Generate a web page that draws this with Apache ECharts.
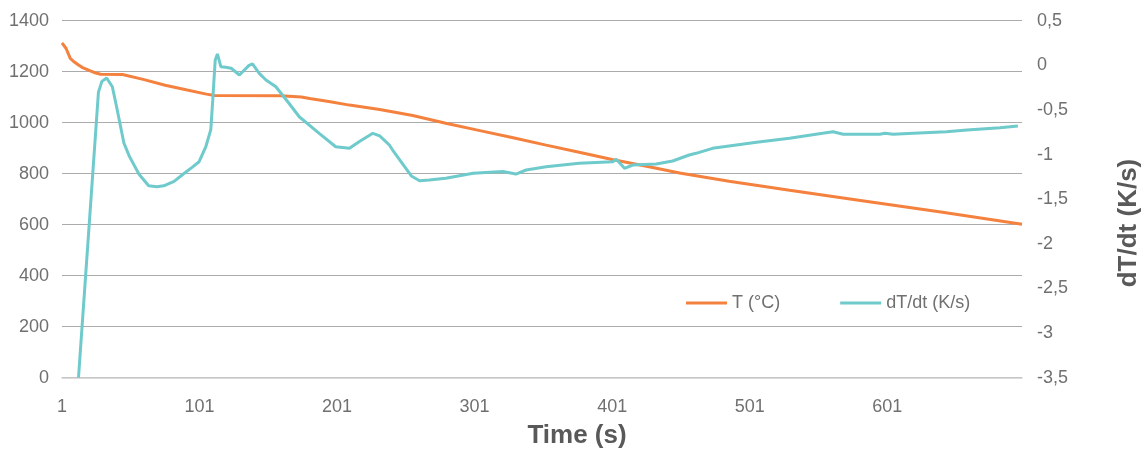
<!DOCTYPE html>
<html>
<head>
<meta charset="utf-8">
<script src="https://cdn.jsdelivr.net/npm/echarts@6/dist/echarts.min.js"></script>
<style>
  html, body { margin: 0; padding: 0; background: #ffffff; }
  #chart { width: 1148px; height: 450px; }
</style>
</head>
<body>
<div id="chart"></div>
<script>
// Temperature during cooling, T (°C), against time (s)
const tempTime = [1, 4, 7, 10, 13, 16, 19, 22, 25, 29,
                  45, 60, 76, 92, 106, 112, 160, 175, 181, 195,
                  210, 232, 256, 280, 304, 329, 353, 377, 401, 426,
                  450, 474, 486, 530, 579, 640, 699];
const tempC = [1313, 1291, 1252, 1238, 1226, 1216, 1209, 1202, 1196, 1190,
               1189, 1170, 1147, 1128, 1112, 1107, 1106, 1101, 1095, 1083,
               1069, 1052, 1028, 998, 970, 941, 912, 884, 856, 829,
               803, 781, 770, 735, 697, 650, 602];

// Cooling rate, dT/dt (K/s), against time (s)
const rateTime = [13, 27.5, 30, 33.5, 37.6, 40.5, 46, 50, 57, 64,
                  70, 75, 82.5, 89, 95.8, 100.7, 105.6, 109.2, 110.6, 112.4,
                  114, 116.5, 120, 124, 130, 137, 139.5, 144.4, 149.3, 156.5,
                  166, 173.5, 188, 200, 210, 217, 227, 232, 239, 241.4,
                  251, 255, 261, 268, 280, 300, 321.5, 331, 338.5, 353,
                  377, 401.5, 404, 410, 416, 433, 445, 457, 462, 474,
                  486, 506, 530, 554, 561.6, 569, 595.6, 599.3, 605.3, 620,
                  644, 659, 683, 696];
const rateKs = [-3.5, -0.3, -0.18, -0.142, -0.24, -0.45, -0.87, -1.02, -1.22, -1.35,
                -1.36, -1.35, -1.30, -1.22, -1.14, -1.08, -0.91, -0.72, -0.39, 0.06,
                0.127, -0.015, -0.022, -0.033, -0.108, 0.0, 0.015, -0.09, -0.164, -0.24,
                -0.425, -0.576, -0.762, -0.912, -0.93, -0.856, -0.762, -0.79, -0.893, -0.949,
                -1.154, -1.24, -1.293, -1.285, -1.266, -1.21, -1.19, -1.218, -1.173, -1.136,
                -1.098, -1.08, -1.053, -1.154, -1.117, -1.106, -1.072, -1.005, -0.986, -0.93,
                -0.904, -0.863, -0.818, -0.762, -0.744, -0.773, -0.773, -0.762, -0.773, -0.762,
                -0.744, -0.725, -0.699, -0.68];

// Axis tick labels
const timeTicks = [1, 101, 201, 301, 401, 501, 601];

const seriesNames = ['T (°C)', 'dT/dt (K/s)'];

const zip = (xs, ys) => xs.map((x, i) => [x, ys[i]]);

const FONT = '"Liberation Sans", Arial, sans-serif';
const labelStyle = { fontFamily: FONT, fontSize: 18, color: '#707070' };

const chart = echarts.init(document.getElementById('chart'), null, { renderer: 'canvas' });

chart.setOption({
  animation: false,
  backgroundColor: '#ffffff',
  grid: { left: 62, right: 126, top: 20.7, bottom: 72.3 },
  xAxis: {
    type: 'value',
    min: 1,
    max: 699,
    axisLine: { lineStyle: { color: '#d0d0d0', width: 1.5 } },
    axisTick: { show: false },
    splitLine: { show: false },
    axisLabel: Object.assign({ customValues: timeTicks, margin: 20, formatter: v => String(v) }, labelStyle)
  },
  yAxis: [
    {
      type: 'value',
      position: 'left',
      min: 0,
      max: 1400,
      interval: 200,
      axisLine: { show: false },
      axisTick: { show: false },
      splitLine: { lineStyle: { color: '#ababab', width: 1 } },
      axisLabel: Object.assign({ margin: 13, formatter: v => String(v) }, labelStyle)
    },
    {
      type: 'value',
      position: 'right',
      min: -3.5,
      max: 0.5,
      interval: 0.5,
      axisLine: { show: false },
      axisTick: { show: false },
      splitLine: { show: false },
      axisLabel: Object.assign({
        margin: 15,
        formatter: v => String(v).replace('.', ',')
      }, labelStyle)
    }
  ],
  legend: {
    data: seriesNames,
    left: 681,
    top: 289,
    icon: 'rect',
    itemWidth: 41,
    itemHeight: 3,
    itemGap: 60,
    textStyle: { fontFamily: FONT, fontSize: 18, color: '#707070' }
  },
  series: [
    {
      name: seriesNames[0],
      type: 'line',
      yAxisIndex: 0,
      data: zip(tempTime, tempC),
      symbol: 'none',
      lineStyle: { color: '#F4813E', width: 3 },
      itemStyle: { color: '#F4813E' }
    },
    {
      name: seriesNames[1],
      type: 'line',
      yAxisIndex: 1,
      data: zip(rateTime, rateKs),
      symbol: 'none',
      lineStyle: { color: '#6FCACC', width: 3 },
      itemStyle: { color: '#6FCACC' }
    }
  ],
  graphic: [
    {
      type: 'text',
      x: 577,
      y: 436,
      style: {
        text: 'Time (s)',
        font: 'bold 26px ' + FONT,
        fill: '#595959',
        align: 'center',
        verticalAlign: 'middle'
      }
    },
    {
      type: 'text',
      x: 1129,
      y: 223,
      rotation: Math.PI / 2,
      style: {
        text: 'dT/dt (K/s)',
        font: 'bold 26px ' + FONT,
        fill: '#595959',
        align: 'center',
        verticalAlign: 'middle'
      }
    }
  ]
});
</script>
</body>
</html>
